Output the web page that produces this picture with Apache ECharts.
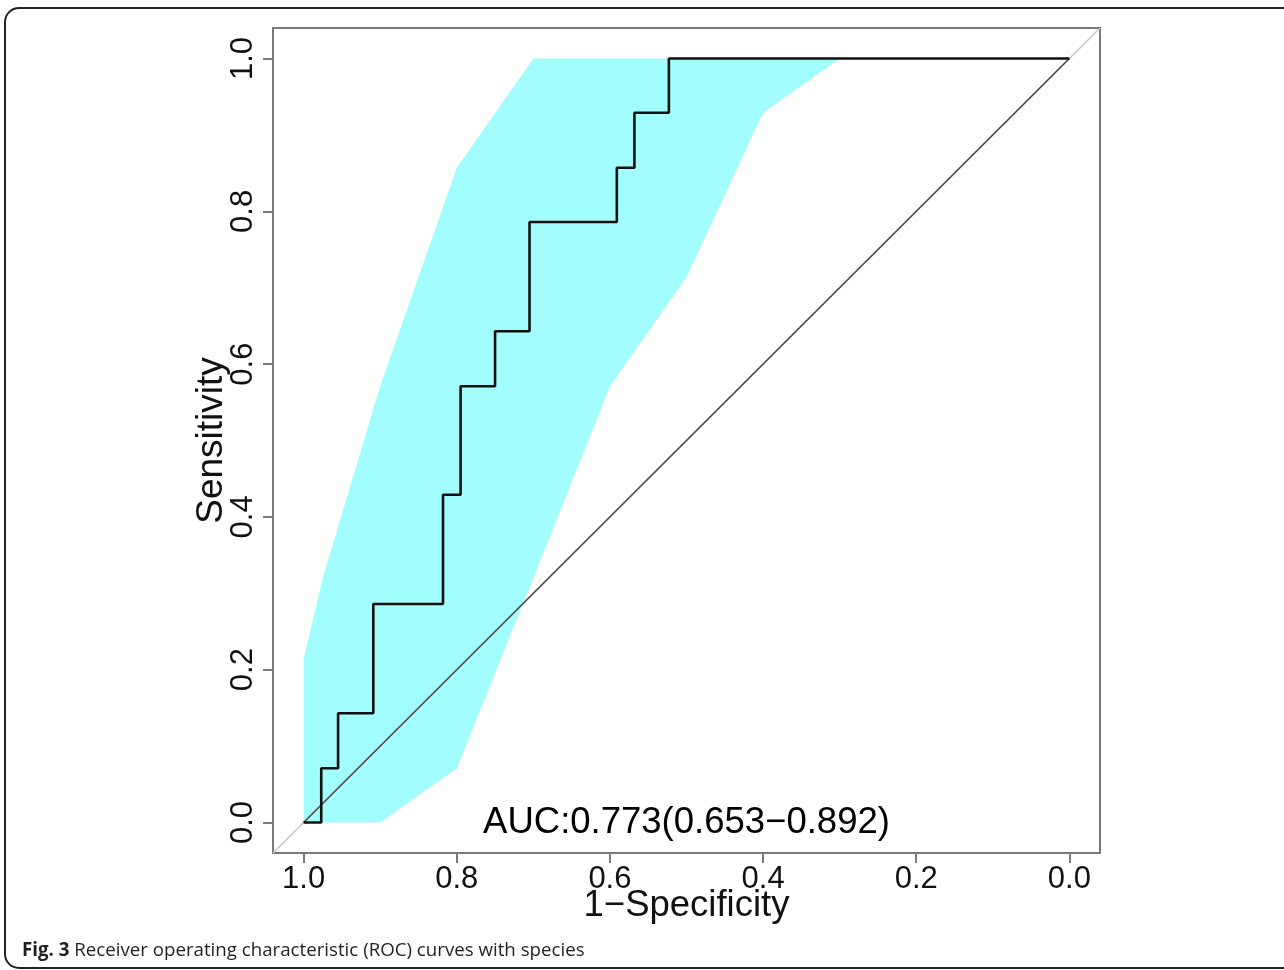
<!DOCTYPE html>
<html>
<head>
<meta charset="utf-8">
<script src="https://cdn.jsdelivr.net/npm/echarts@6/dist/echarts.min.js"></script>
<style>
html,body{margin:0;padding:0;background:#fff;}
#chart{width:1284px;height:970px;}
</style>
</head>
<body>
<div id="chart"></div>
<script>
// ---- data ----
const tickValues = [0, 0.2, 0.4, 0.6, 0.8, 1.0];
const rocSpec = [1, 0.977, 0.977, 0.955, 0.955, 0.909, 0.909, 0.818, 0.818, 0.795, 0.795, 0.75, 0.75, 0.705, 0.705, 0.591, 0.591, 0.568, 0.568, 0.523, 0.523, 0];
const rocSens = [0, 0, 0.071, 0.071, 0.143, 0.143, 0.286, 0.286, 0.429, 0.429, 0.571, 0.571, 0.643, 0.643, 0.786, 0.786, 0.857, 0.857, 0.929, 0.929, 1, 1];
const bandSpecUpper = [1.0, 0.975, 0.9, 0.8, 0.7, 0.3];
const bandSensUpper = [0.214, 0.32, 0.571, 0.857, 1.0, 1.0];
const bandSpecLower = [0.3, 0.4, 0.5, 0.6, 0.7, 0.8, 0.9, 1.0];
const bandSensLower = [1.0, 0.929, 0.714, 0.571, 0.32, 0.071, 0.0, 0.0];
const diagSpec = [1, 0];
const diagSens = [0, 1];
const aucText = 'AUC:0.773(0.653\u22120.892)';
const aucPos = [0.5, 0];
const xTitle = '1\u2212Specificity';
const yTitle = 'Sensitivity';
const captionBold = 'Fig. 3';
const captionText = ' Receiver operating characteristic (ROC) curves with species';

const axMin = -0.04, axMax = 1.04;
const FONT = '"Liberation Sans", Arial, Helvetica, sans-serif';

const chart = echarts.init(document.getElementById('chart'), null, {renderer: 'canvas'});

const bandPts = [];
bandSpecUpper.forEach((s, i) => bandPts.push([s, bandSensUpper[i]]));
bandSpecLower.forEach((s, i) => bandPts.push([s, bandSensLower[i]]));

const option = {
  animation: false,
  backgroundColor: '#ffffff',
  grid: {left: 273, top: 28, right: 184, bottom: 117, show: true, borderColor: '#7a7a7a', borderWidth: 2, backgroundColor: 'transparent'},
  xAxis: {
    type: 'value', inverse: true, min: axMin, max: axMax,
    name: xTitle, nameLocation: 'middle', nameGap: 34, nameMoveOverlap: false,
    nameTextStyle: {fontFamily: FONT, fontSize: 36.5, color: '#111', lineHeight: 37},
    axisLine: {show: false, onZero: false},
    splitLine: {show: false},
    axisTick: {show: true, length: 10, lineStyle: {color: '#7a7a7a', width: 2}, customValues: tickValues},
    axisLabel: {show: true, customValues: tickValues, margin: 11, fontFamily: FONT, fontSize: 31, lineHeight: 31, color: '#111', formatter: v => v.toFixed(1)}
  },
  yAxis: {
    type: 'value', min: axMin, max: axMax,
    name: yTitle, nameLocation: 'middle', nameGap: 43, nameRotate: 90, nameMoveOverlap: false,
    nameTextStyle: {fontFamily: FONT, fontSize: 37, color: '#111', lineHeight: 37},
    axisLine: {show: false, onZero: false},
    splitLine: {show: false},
    axisTick: {show: true, length: 10, lineStyle: {color: '#7a7a7a', width: 2}, customValues: tickValues},
    axisLabel: {show: true, customValues: tickValues, rotate: 90, margin: 14, fontFamily: FONT, fontSize: 31, lineHeight: 31, color: '#111', formatter: v => v.toFixed(1)}
  },
  series: [
    {
      type: 'custom', silent: true, z: 1,
      data: [0],
      renderItem: function (params, api) {
        const pts = bandPts.map(p => api.coord(p));
        return {type: 'polygon', shape: {points: pts}, style: {fill: '#a2fdfd', stroke: null}};
      }
    },
    {
      type: 'line', silent: true, z: 2, symbol: 'none',
      data: [[axMax, 1 - axMax], [axMin, 1 - axMin]],
      lineStyle: {color: '#c8c8c8', width: 1.5}
    },
    {
      type: 'line', silent: true, z: 3, symbol: 'none',
      data: diagSpec.map((s, i) => [s, diagSens[i]]),
      lineStyle: {color: '#4a4a4a', width: 1.6}
    },
    {
      type: 'line', silent: true, z: 4, symbol: 'none',
      data: rocSpec.map((s, i) => [s, rocSens[i]]),
      lineStyle: {color: '#111111', width: 2.6}
    },
    {
      type: 'scatter', silent: true, z: 5, symbolSize: 0,
      itemStyle: {opacity: 1},
      data: [aucPos],
      label: {show: true, position: 'inside', formatter: aucText, fontFamily: FONT, fontSize: 36.5, color: '#000', opacity: 1}
    }
  ],
  graphic: [
    {
      type: 'rect', silent: true,
      shape: {x: 5, y: 8, width: 1320, height: 960, r: 14},
      style: {fill: null, stroke: '#222', lineWidth: 2}
    },
    {
      type: 'text', silent: true, left: 22, top: 941,
      style: {
        text: '{b|' + captionBold + '}{n|' + captionText + '}',
        rich: {
          b: {fontFamily: '"Open Sans", sans-serif', fontWeight: 'bold', fontSize: 18.7, fill: '#231f20'},
          n: {fontFamily: '"Open Sans", sans-serif', fontSize: 18.7, fill: '#231f20'}
        }
      }
    }
  ]
};
chart.setOption(option);
</script>
</body>
</html>
